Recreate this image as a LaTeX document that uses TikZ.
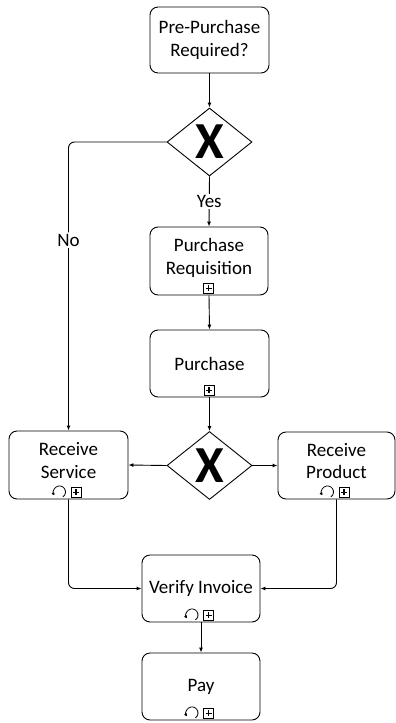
\documentclass[tikz,border=0pt]{standalone}
\usepackage{fontspec}
\setmainfont{Carlito}
\usetikzlibrary{shapes.geometric,arrows.meta}

\tikzset{
  task/.style={draw, rounded corners=8pt, line width=0.9pt, align=center,
    inner sep=0pt, font=\fontsize{19}{22.5}\selectfont},
  gate/.style={draw, diamond, line width=0.9pt, inner sep=0pt, aspect=1.25,
    minimum width=85pt, minimum height=68pt},
  gatex/.style={font=\fontsize{52}{52}\selectfont\bfseries, inner sep=0pt},
  flow/.style={line width=0.9pt, -{Latex[length=5pt,width=4pt]}},
  lbl/.style={fill=white, inner sep=1.5pt, font=\fontsize{19}{22.5}\selectfont},
  plusmark/.pic={
    \draw[line width=0.8pt, fill=white] (-5,-5) rectangle (5,5);
    \draw[line width=1.5pt] (-3,0) -- (3,0) (0,-3) -- (0,3);
  },
  loopmark/.pic={
    \draw[line width=0.8pt, -{Latex[length=3pt,width=3.4pt]}]
      (-55:6pt) arc[start angle=-55, end angle=215, radius=6pt];
  }
}

\begin{document}
\begin{tikzpicture}[x=1pt, y=-1pt]
  \useasboundingbox (0,0) rectangle (396,723);

  % activities and gateways
  \node[task, minimum width=119pt, minimum height=66pt] (pre)  at (209.5,40)  {Pre-Purchase\\Required?};
  \node[gate] (g1) at (209.5,142) {};
  \node[gatex] (g1x) at (g1) {X};
  \node[task, minimum width=118pt, minimum height=68pt] (req)  at (209,261)   {Purchase\\Requisition\\[-13pt]};
  \node[task, minimum width=119pt, minimum height=67pt] (pur)  at (209.5,363.5) {Purchase};
  \node[gate] (g2) at (209.5,465.5) {};
  \node[gatex] (g2x) at (g2) {X};
  \node[task, minimum width=119pt, minimum height=68pt] (rsv)  at (68.5,465)  {Receive\\Service\\[-13pt]};
  \node[task, minimum width=117pt, minimum height=67pt] (rpd)  at (336.5,465.5) {Receive\\Product\\[-13pt]};
  \node[task, minimum width=118pt, minimum height=67pt] (ver)  at (201,588.5) {Verify Invoice};
  \node[task, minimum width=118pt, minimum height=67pt] (pay)  at (201,686.5) {Pay};

  % sub-process and loop markers
  \pic at ([shift={(-0.5,-7)}]req.south) {plusmark};
  \pic at ([shift={(-0.5,-7)}]pur.south) {plusmark};
  \foreach \t in {rsv,rpd,ver,pay}{
    \pic at ([shift={(7.5,-7)}]\t.south) {plusmark};
    \pic at ([shift={(-9,-7.5)}]\t.south) {loopmark};
  }

  % sequence flows
  \draw[flow] (pre.south) -- (g1.north);
  \draw[flow] (g1.south) -- node[lbl] (yes) {Yes} (req.north);
  \draw[flow, rounded corners=6pt] (g1.west) -| node[lbl, pos=0.67] (no) {No} (rsv.north);
  \draw[flow] (req.south) -- (pur.north);
  \draw[flow] (pur.south) -- (g2.north);
  \draw[flow] (g2.west) -- (rsv.east);
  \draw[flow] (g2.east) -- (rpd.west);
  \draw[flow, rounded corners=6pt] (rsv.south) |- (ver.west);
  \draw[flow, rounded corners=6pt] (rpd.south) |- (ver.east);
  \draw[flow] (ver.south) -- (pay.north);
\end{tikzpicture}
\end{document}
